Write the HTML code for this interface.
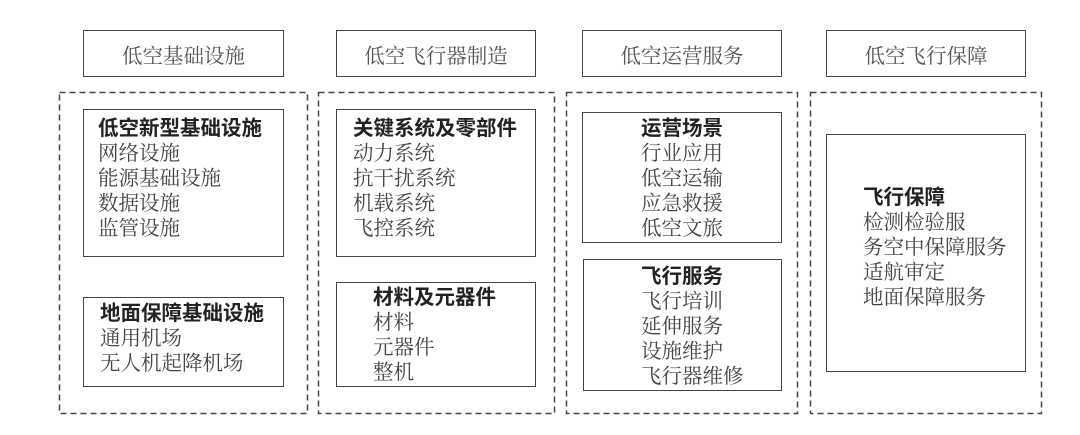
<!DOCTYPE html>
<html><head><meta charset="utf-8"><style>
body{margin:0;width:1080px;height:435px;background:#fff;position:relative;overflow:hidden;font-family:"Liberation Serif","Noto Serif CJK SC",serif;}
.b{position:absolute;border:1.5px solid #444;box-sizing:border-box;}
.h{position:absolute;display:flex;align-items:center;justify-content:center;font-size:20.5px;color:#555;}
.t{position:absolute;font-size:20.5px;line-height:25px;color:#444;white-space:nowrap;}
.t b{color:#222;font-weight:bold;font-family:"Liberation Sans","Noto Sans CJK SC",sans-serif;}
svg{position:absolute;left:0;top:0}
</style></head><body>
<svg width="1080" height="435"><g fill="none" stroke="#444" stroke-width="1.5" stroke-dasharray="6,4">
<rect x="59.5" y="92.5" width="248" height="321"/>
<rect x="318.5" y="92.5" width="236" height="321"/>
<rect x="566.5" y="92.5" width="231" height="321"/>
<rect x="810.5" y="92.5" width="231" height="321"/>
</g></svg>
<div class="b h" style="left:83px;top:30px;width:201px;height:47px">低空基础设施</div>
<div class="b h" style="left:336px;top:30px;width:200px;height:47px">低空飞行器制造</div>
<div class="b h" style="left:582px;top:30px;width:200px;height:47px">低空运营服务</div>
<div class="b h" style="left:826px;top:30px;width:200px;height:47px">低空飞行保障</div>

<div class="b" style="left:83px;top:109px;width:201px;height:148px"></div>
<div class="t" style="left:98px;top:116px"><b>低空新型基础设施</b><br>网络设施<br>能源基础设施<br>数据设施<br>监管设施</div>
<div class="b" style="left:83px;top:297px;width:201px;height:90px"></div>
<div class="t" style="left:100px;top:301px"><b>地面保障基础设施</b><br>通用机场<br>无人机起降机场</div>

<div class="b" style="left:336px;top:109px;width:200px;height:148px"></div>
<div class="t" style="left:353px;top:116px"><b>关键系统及零部件</b><br>动力系统<br>抗干扰系统<br>机载系统<br>飞控系统</div>
<div class="b" style="left:336px;top:282px;width:200px;height:105px"></div>
<div class="t" style="left:373px;top:285px"><b>材料及元器件</b><br>材料<br>元器件<br>整机</div>

<div class="b" style="left:582px;top:112px;width:200px;height:131px"></div>
<div class="t" style="left:641px;top:116px"><b>运营场景</b><br>行业应用<br>低空运输<br>应急救援<br>低空文旅</div>
<div class="b" style="left:583px;top:259px;width:199px;height:132px"></div>
<div class="t" style="left:641px;top:264px"><b>飞行服务</b><br>飞行培训<br>延伸服务<br>设施维护<br>飞行器维修</div>

<div class="b" style="left:826px;top:134px;width:200px;height:238px"></div>
<div class="t" style="left:863px;top:185px"><b>飞行保障</b><br>检测检验服<br>务空中保障服务<br>适航审定<br>地面保障服务</div>
</body></html>
